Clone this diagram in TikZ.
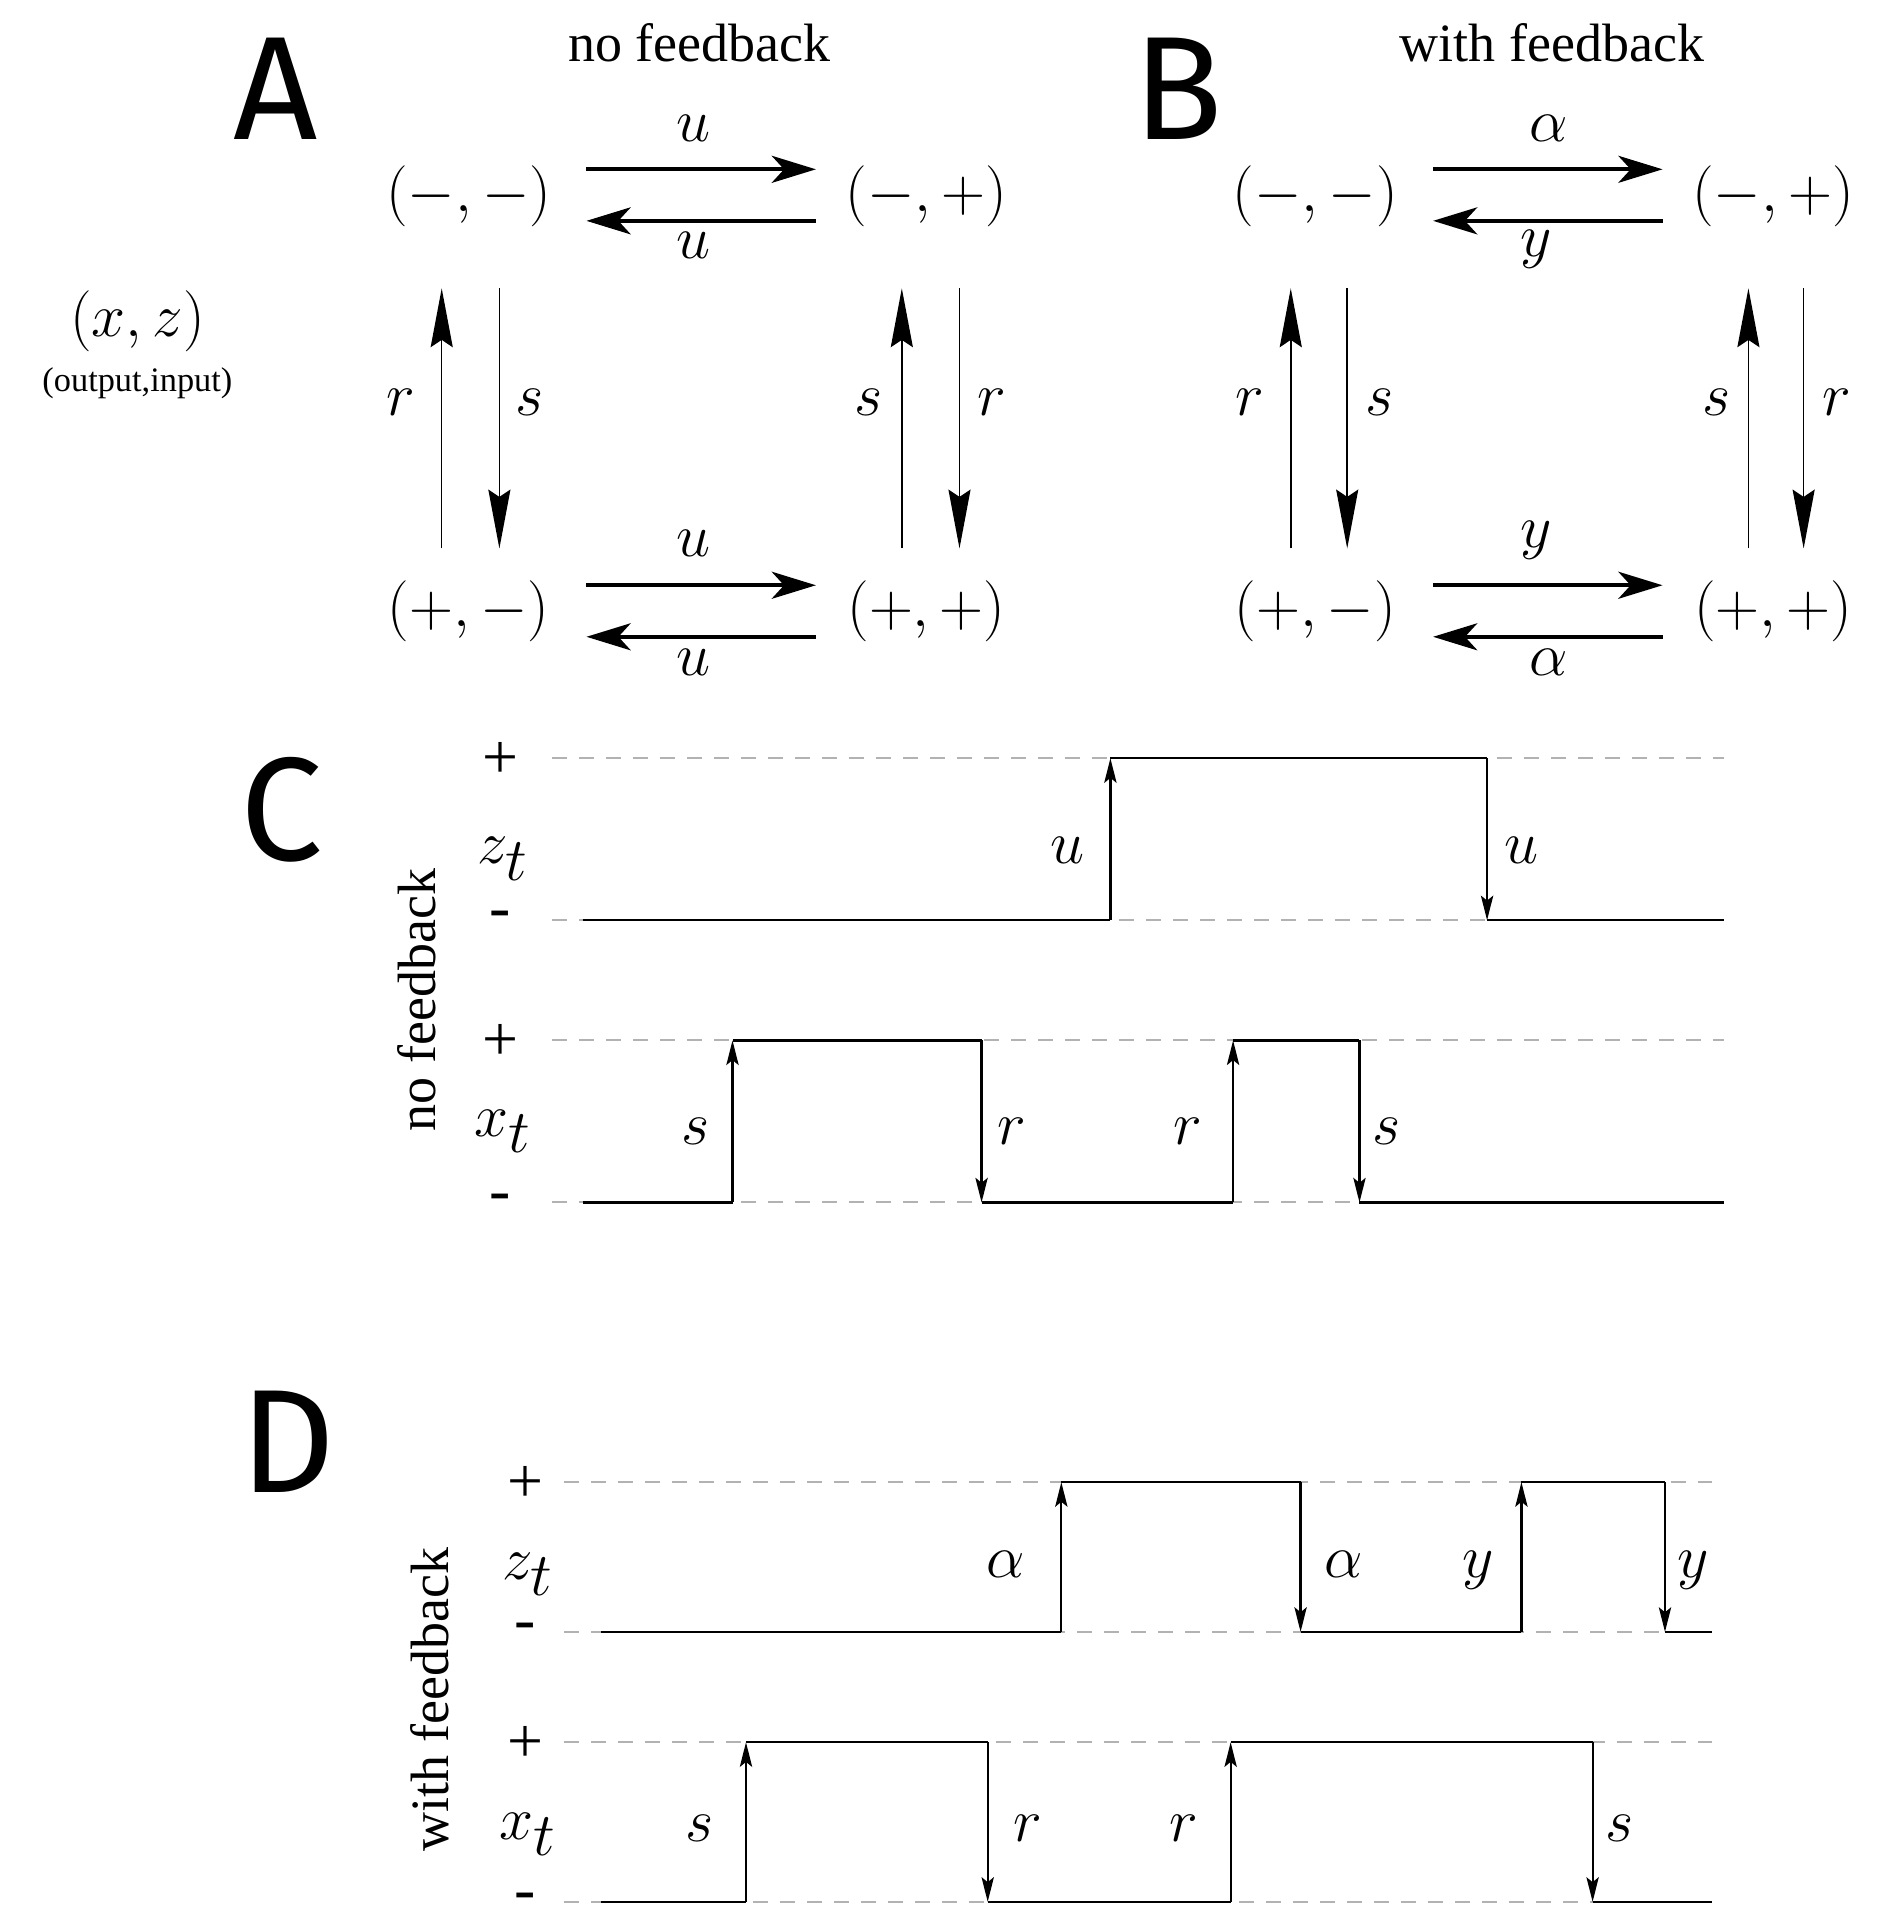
\documentclass[tikz,border=0pt]{standalone}
\usepackage{fontspec}
\setmainfont{Liberation Serif}
\newfontfamily\panelfont{Fira Sans}
\usetikzlibrary{arrows.meta}
\begin{document}
\begin{tikzpicture}[x=0.5pt,y=-0.5pt,
  st/.style={inner sep=0pt,font=\fontsize{38}{44}\selectfont},
  lab/.style={inner sep=0pt,font=\fontsize{42}{48}\selectfont},
  slab/.style={inner sep=0pt,font=\fontsize{40}{46}\selectfont},
  pm/.style={inner sep=0pt,font=\fontsize{26}{30}\selectfont},
  panel/.style={inner sep=0pt,font=\panelfont\fontsize{60}{70}\selectfont},
  ttl/.style={inner sep=0pt,font=\fontsize{22}{26}\selectfont},
  harr/.style={line width=1.6pt,-{Stealth[length=18pt,width=11pt,inset=5pt]}},
  varr/.style={line width=0.6pt,-{Stealth[length=24pt,width=9pt,inset=3pt]}},
  sig/.style={line width=0.9pt},
  sarr/.style={line width=0.9pt,-{Stealth[length=10pt,width=5pt,inset=2pt]}},
  guide/.style={gray!60,line width=0.8pt,dash pattern=on 6pt off 5pt}]
\useasboundingbox (0,0) rectangle (1550,1573);
% ---- Panel A
\node[panel] (pA) at (225,72) {A};
\node[ttl] (tA) at (570,35) {no feedback};
\node[st] (amm) at (382,160) {$(-,-)$};
\node[st] (amp) at (755,160) {$(-,+)$};
\node[st] (apm) at (382,498) {$(+,-)$};
\node[st] (app) at (755,498) {$(+,+)$};
\draw[harr] (478,138) -- (665,138); \node[lab] (a1) at (565,105) {$u$};
\draw[harr] (665,180) -- (478,180); \node[lab] (a2) at (565,200) {$u$};
\draw[harr] (478,477) -- (665,477); \node[lab] (a3) at (565,443) {$u$};
\draw[harr] (665,519) -- (478,519); \node[lab] (a4) at (565,540) {$u$};
\draw[varr] (360,447) -- (360,235); \node[lab] (a5) at (327,328) {$r$};
\draw[varr] (407,235) -- (407,447); \node[lab] (a6) at (432,328) {$s$};
\draw[varr] (735,447) -- (735,235); \node[lab] (a7) at (708,328) {$s$};
\draw[varr] (782,235) -- (782,447); \node[lab] (a8) at (808,328) {$r$};
\node[inner sep=0pt,font=\fontsize{48}{54}\selectfont] (xz) at (112,262) {$(x,z)$};
\node[inner sep=0pt,font=\fontsize{14}{16}\selectfont] (oi) at (112,312) {(output,input)};
% ---- Panel B
\node[panel] (pB) at (960,72) {B};
\node[ttl] (tB) at (1265,35) {with feedback};
\node[st] (bmm) at (1072,160) {$(-,-)$};
\node[st] (bmp) at (1445,160) {$(-,+)$};
\node[st] (bpm) at (1072,498) {$(+,-)$};
\node[st] (bpp) at (1445,498) {$(+,+)$};
\draw[harr] (1168,138) -- (1355,138); \node[lab] (b1) at (1262,105) {$\alpha$};
\draw[harr] (1355,180) -- (1168,180); \node[lab] (b2) at (1252,203) {$y$};
\draw[harr] (1168,477) -- (1355,477); \node[lab] (b3) at (1252,440) {$y$};
\draw[harr] (1355,519) -- (1168,519); \node[lab] (b4) at (1262,540) {$\alpha$};
\draw[varr] (1052,447) -- (1052,235); \node[lab] (b5) at (1019,328) {$r$};
\draw[varr] (1098,235) -- (1098,447); \node[lab] (b6) at (1124,328) {$s$};
\draw[varr] (1425,447) -- (1425,235); \node[lab] (b7) at (1399,328) {$s$};
\draw[varr] (1470,235) -- (1470,447); \node[lab] (b8) at (1497,328) {$r$};
% ---- Panel C
\node[panel] (pC) at (230,660) {C};
\node[ttl,rotate=90,font=\fontsize{22}{26}\selectfont] (tC) at (340,815) {no feedback};
\foreach \yy in {618,750,848,980} \draw[guide] (450,\yy) -- (1405,\yy);
\node[pm] (c1) at (408,620) {+}; \node[pm] (c2) at (408,750) {-};
\node[pm] (c3) at (408,850) {+}; \node[pm] (c4) at (408,980) {-};
\node[slab] (zC) at (410,700) {$z_t$};
\node[slab] (xC) at (410,922) {$x_t$};
\draw[sig] (475,750) -- (905,750); \draw[sarr] (905,750) -- (905,618);
\draw[sig] (905,618) -- (1212,618); \draw[sarr] (1212,618) -- (1212,750);
\draw[sig] (1212,750) -- (1405,750);
\node[slab] (c5) at (870,693) {$u$}; \node[slab] (c6) at (1240,693) {$u$};
\draw[sig] (475,980) -- (597,980); \draw[sarr] (597,980) -- (597,848);
\draw[sig] (597,848) -- (800,848); \draw[sarr] (800,848) -- (800,980);
\draw[sig] (800,980) -- (1005,980); \draw[sarr] (1005,980) -- (1005,848);
\draw[sig] (1005,848) -- (1108,848); \draw[sarr] (1108,848) -- (1108,980);
\draw[sig] (1108,980) -- (1405,980);
\node[slab] (c7) at (567,922) {$s$}; \node[slab] (c8) at (825,922) {$r$};
\node[slab] (c9) at (968,922) {$r$}; \node[slab] (c10) at (1130,922) {$s$};
% ---- Panel D
\node[panel] (pD) at (235,1175) {D};
\node[ttl,rotate=90,font=\fontsize{22}{26}\selectfont] (tD) at (350,1385) {with feedback};
\foreach \yy in {1208,1330,1420,1550} \draw[guide] (460,\yy) -- (1395,\yy);
\node[pm] (d1) at (428,1210) {+}; \node[pm] (d2) at (428,1330) {-};
\node[pm] (d3) at (428,1422) {+}; \node[pm] (d4) at (428,1550) {-};
\node[slab] (zD) at (430,1283) {$z_t$};
\node[slab] (xD) at (430,1495) {$x_t$};
\draw[sig] (490,1330) -- (865,1330); \draw[sarr] (865,1330) -- (865,1208);
\draw[sig] (865,1208) -- (1060,1208); \draw[sarr] (1060,1208) -- (1060,1330);
\draw[sig] (1060,1330) -- (1240,1330); \draw[sarr] (1240,1330) -- (1240,1208);
\draw[sig] (1240,1208) -- (1357,1208); \draw[sarr] (1357,1208) -- (1357,1330);
\draw[sig] (1357,1330) -- (1395,1330);
\node[slab] (d5) at (820,1275) {$\alpha$}; \node[slab] (d6) at (1095,1275) {$\alpha$};
\node[slab] (d7) at (1205,1280) {$y$}; \node[slab] (d8) at (1380,1280) {$y$};
\draw[sig] (490,1550) -- (608,1550); \draw[sarr] (608,1550) -- (608,1420);
\draw[sig] (608,1420) -- (805,1420); \draw[sarr] (805,1420) -- (805,1550);
\draw[sig] (805,1550) -- (1003,1550); \draw[sarr] (1003,1550) -- (1003,1420);
\draw[sig] (1003,1420) -- (1298,1420); \draw[sarr] (1298,1420) -- (1298,1550);
\draw[sig] (1298,1550) -- (1395,1550);
\node[slab] (d9) at (570,1490) {$s$}; \node[slab] (d10) at (838,1490) {$r$};
\node[slab] (d11) at (965,1490) {$r$}; \node[slab] (d12) at (1320,1490) {$s$};
\end{tikzpicture}
\end{document}
